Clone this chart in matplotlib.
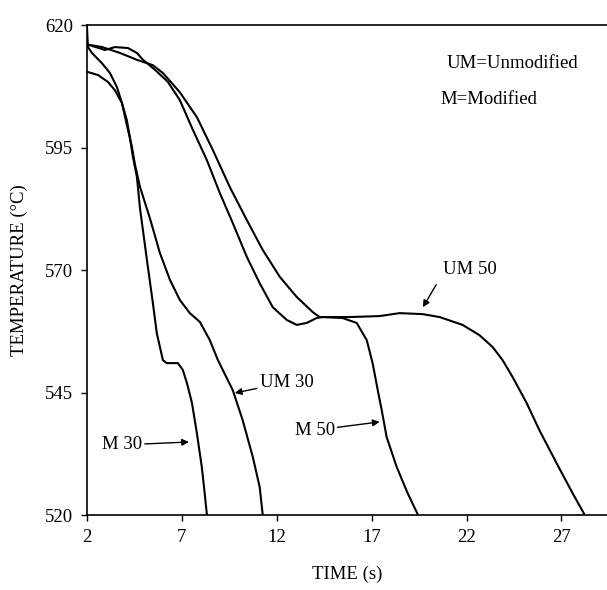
import matplotlib.pyplot as plt

plt.rcParams['font.family'] = ['Liberation Serif', 'DejaVu Serif']

# ===== data =====
m30_t = [2.05, 2.58, 3.1, 3.47, 3.84, 4.1, 4.26, 4.42, 4.63, 4.79, 5.16, 5.47,
         5.68, 6.0, 6.2, 6.79, 7.05, 7.26, 7.53, 7.79, 8.05, 8.2, 8.32]
m30_T = [610.4, 609.8, 608.4, 606.7, 604.1, 600.6, 597.1, 593.1, 589.0, 582.7,
         572.0, 563.3, 557.1, 551.6, 551.0, 551.0, 549.6, 547.0, 542.9, 536.7,
         529.8, 524.5, 520.0]

um30_t = [2.0, 2.05, 2.26, 2.79, 3.21, 3.58, 3.84, 4.1, 4.37, 4.53, 4.79, 5.32,
          5.84, 6.37, 6.89, 7.42, 7.95, 8.47, 8.9, 9.68, 10.2, 10.74, 11.1, 11.26]
um30_T = [619.6, 615.5, 614.3, 612.2, 610.2, 607.3, 604.1, 599.6, 595.1, 591.5,
          587.0, 580.5, 573.5, 568.0, 563.9, 561.2, 559.4, 555.7, 551.6, 545.5,
          539.4, 531.8, 525.7, 520.0]

m50_t = [2.05, 2.95, 3.47, 4.16, 4.63, 4.95, 5.6, 6.26, 6.89, 7.58, 8.32, 9.0,
         9.68, 10.42, 11.1, 11.79, 12.53, 13.05, 13.58, 14.1, 14.42, 15.47,
         16.21, 16.74, 17.05, 17.32, 17.53, 17.79, 18.32, 18.89, 19.42]
m50_T = [616.0, 614.9, 615.5, 615.3, 614.3, 612.9, 610.8, 608.4, 604.7, 598.6,
         592.4, 585.7, 579.6, 572.7, 567.3, 562.4, 559.8, 558.8, 559.2, 560.2,
         560.4, 560.2, 559.2, 555.7, 551.0, 545.5, 541.4, 535.9, 529.8, 524.5,
         520.2]

um50_t = [2.05, 2.8, 3.74, 4.63, 5.47, 6.0, 6.89, 7.79, 8.63, 9.53, 10.42,
          11.26, 12.16, 13.05, 13.9, 14.26, 14.79, 15.84, 17.42, 18.47, 19.68,
          20.58, 21.79, 22.68, 23.37, 23.9, 24.42, 25.16, 25.84, 26.74, 27.58,
          28.2]
um50_T = [616.0, 615.5, 614.3, 612.9, 611.8, 610.2, 606.3, 601.2, 594.5, 586.9,
          580.2, 574.1, 568.6, 564.5, 561.4, 560.4, 560.4, 560.4, 560.6, 561.2,
          561.0, 560.4, 558.8, 556.7, 554.3, 551.6, 548.2, 542.9, 537.3, 530.6,
          524.5, 520.2]

x_ticks = [2, 7, 12, 17, 22, 27]
y_ticks = [520, 545, 570, 595, 620]

# ===== figure =====
fig = plt.figure(figsize=(6.07, 5.90), dpi=100)
ax = fig.add_axes([0.1433, 0.1271, 0.8567, 0.8305])

for t, T in [(m30_t, m30_T), (um30_t, um30_T), (m50_t, m50_T), (um50_t, um50_T)]:
    ax.plot(t, T, color='black', lw=1.5, solid_joinstyle='round')

ax.set_xlim(2, 29.4)
ax.set_ylim(520, 620)
ax.set_xticks(x_ticks)
ax.set_yticks(y_ticks)
ax.tick_params(direction='out', length=4, width=1, labelsize=13.5, pad=6)
ax.spines['right'].set_visible(False)
for s in ['left', 'bottom', 'top']:
    ax.spines[s].set_linewidth(1.2)

ax.set_xlabel('TIME (s)', fontsize=13.5, labelpad=14)
ax.set_ylabel('TEMPERATURE (\u00b0C)', fontsize=13.5, labelpad=12)

# ===== labels and arrows =====
arrow = dict(arrowstyle='-|>', color='black', lw=1, mutation_scale=10, shrinkA=0, shrinkB=0)
ax.annotate('M 30', xy=(7.37, 534.9), xytext=(4.9, 534.3), fontsize=13.5,
            ha='right', va='center', arrowprops=arrow)
ax.annotate('UM 30', xy=(9.79, 544.9), xytext=(11.1, 547.1), fontsize=13.5,
            ha='left', va='center', arrowprops=arrow)
ax.annotate('M 50', xy=(17.42, 539.0), xytext=(15.05, 537.3), fontsize=13.5,
            ha='right', va='center', arrowprops=arrow)
ax.annotate('', xy=(19.7, 562.4), xytext=(20.4, 567.0), arrowprops=arrow)
ax.text(22.2, 570.2, 'UM 50', fontsize=13.5, ha='center', va='center')

ax.text(20.95, 612.2, 'UM=Unmodified', fontsize=13.5, ha='left', va='center')
ax.text(20.6, 604.7, 'M=Modified', fontsize=13.5, ha='left', va='center')

fig.savefig('out.png', dpi=100)
